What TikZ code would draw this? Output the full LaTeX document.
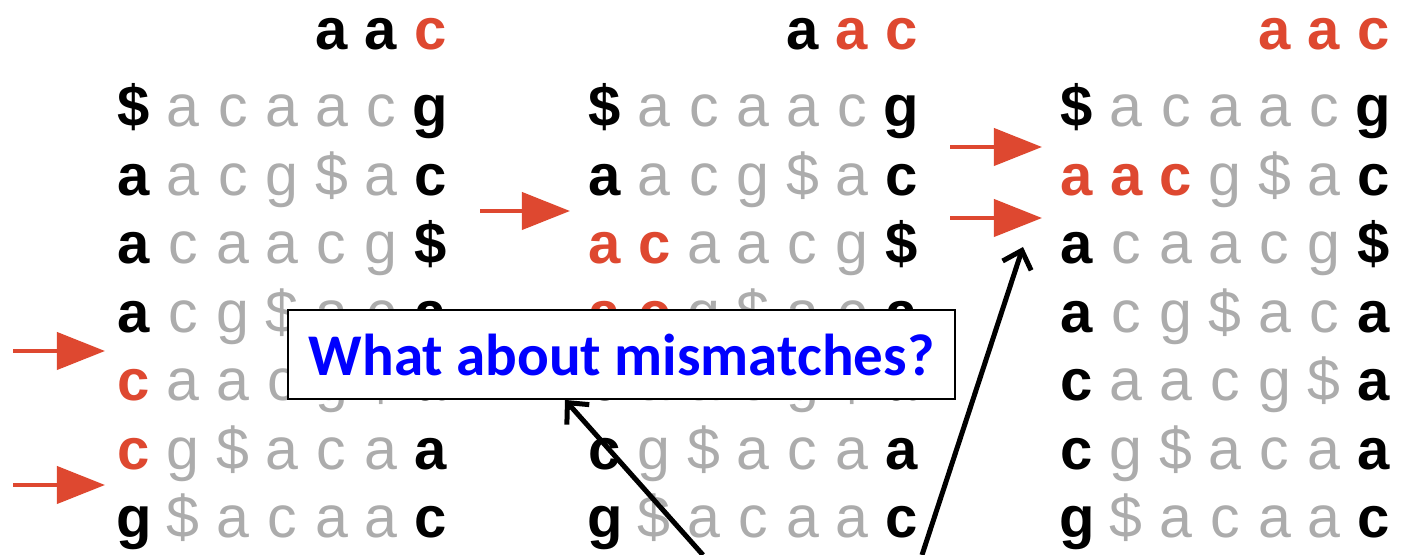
\documentclass[tikz,border=0pt]{standalone}
\usepackage{fontspec}
\setmainfont{Liberation Sans}
\newfontfamily\boxfont{Carlito}
\usetikzlibrary{arrows.meta}
\definecolor{bwtred}{RGB}{222,72,48}
\definecolor{bwtgrey}{RGB}{172,172,172}
\definecolor{qblue}{RGB}{0,0,255}

% One BW matrix: #1 name, #2 x of first column, #3 header letters (cols 4-6), #4 rows
\newcommand\bwtmatrix[4]{%
  \foreach \s/\ch [count=\c from 4] in {#3}
    \node[\s] (#1-h-\c) at ({#2+49.4*\c},50) {\ch};
  \foreach \r/\row in {#4} {
    \foreach \s/\ch [count=\c from 0] in \row
      \node[\s] (#1-\r-\c) at ({#2+49.4*\c},{127+68.5*(\r-1)}) {\ch};
  }%
}

\begin{document}
\begin{tikzpicture}[x=0.01cm,y=-0.01cm,
  ltr/.style={anchor=base, inner sep=0pt},
  ck/.style={ltr, font=\fontsize{16.5}{16.5}\selectfont\bfseries, text=black},
  cr/.style={ltr, font=\fontsize{16.5}{16.5}\selectfont\bfseries, text=bwtred},
  cg/.style={ltr, font=\fontsize{16.8}{16.8}\selectfont, text=bwtgrey},
  hit/.style={draw=bwtred, line width=0.04cm, -{Triangle[length=0.48cm,width=0.37cm]}},
  callout/.style={draw=black, line width=0.05cm, -{Straight Barb[length=0.16cm,width=0.3cm]}},
  question/.style={draw=black, line width=0.018cm, fill=white, inner sep=0pt,
    minimum width=6.67cm, minimum height=0.89cm, text=qblue,
    font=\boxfont\bfseries\fontsize{16.8}{16.8}\selectfont}]
\useasboundingbox[fill=white] (0,0) rectangle (1405,555);

% first step: rows starting with c
\bwtmatrix{m1}{134}{ck/a,ck/a,cr/c}{
  1/{ck/\$,cg/a,cg/c,cg/a,cg/a,cg/c,ck/g},
  2/{ck/a,cg/a,cg/c,cg/g,cg/\$,cg/a,ck/c},
  3/{ck/a,cg/c,cg/a,cg/a,cg/c,cg/g,ck/\$},
  4/{ck/a,cg/c,cg/g,cg/\$,cg/a,cg/c,ck/a},
  5/{cr/c,cg/a,cg/a,cg/c,cg/g,cg/\$,ck/a},
  6/{cr/c,cg/g,cg/\$,cg/a,cg/c,cg/a,ck/a},
  7/{ck/g,cg/\$,cg/a,cg/c,cg/a,cg/a,ck/c}}

% second step: rows starting with ac
\bwtmatrix{m2}{605}{ck/a,cr/a,cr/c}{
  1/{ck/\$,cg/a,cg/c,cg/a,cg/a,cg/c,ck/g},
  2/{ck/a,cg/a,cg/c,cg/g,cg/\$,cg/a,ck/c},
  3/{cr/a,cr/c,cg/a,cg/a,cg/c,cg/g,ck/\$},
  4/{cr/a,cr/c,cg/g,cg/\$,cg/a,cg/c,ck/a},
  5/{ck/c,cg/a,cg/a,cg/c,cg/g,cg/\$,ck/a},
  6/{ck/c,cg/g,cg/\$,cg/a,cg/c,cg/a,ck/a},
  7/{ck/g,cg/\$,cg/a,cg/c,cg/a,cg/a,ck/c}}

% third step: rows starting with aac
\bwtmatrix{m3}{1077}{cr/a,cr/a,cr/c}{
  1/{ck/\$,cg/a,cg/c,cg/a,cg/a,cg/c,ck/g},
  2/{cr/a,cr/a,cr/c,cg/g,cg/\$,cg/a,ck/c},
  3/{ck/a,cg/c,cg/a,cg/a,cg/c,cg/g,ck/\$},
  4/{ck/a,cg/c,cg/g,cg/\$,cg/a,cg/c,ck/a},
  5/{ck/c,cg/a,cg/a,cg/c,cg/g,cg/\$,ck/a},
  6/{ck/c,cg/g,cg/\$,cg/a,cg/c,cg/a,ck/a},
  7/{ck/g,cg/\$,cg/a,cg/c,cg/a,cg/a,ck/c}}

% range markers
\coordinate (a1s) at (13,351);   \coordinate (a1e) at (105,351);
\coordinate (a2s) at (13,485);   \coordinate (a2e) at (105,485);
\coordinate (a3s) at (480,211);  \coordinate (a3e) at (570,211);
\coordinate (a4s) at (950,147);  \coordinate (a4e) at (1042,147);
\coordinate (a5s) at (950,218);  \coordinate (a5e) at (1042,218);
\foreach \i in {1,...,5} \draw[hit] (a\i s) -- (a\i e);

% question box
\node[question] (q) at (621.5,354.5) {\raisebox{-0.06cm}{What about mismatches?}};

% pointers from below
\coordinate (p1) at (703,555);
\coordinate (t1) at (565,0);
\coordinate (p2) at (922,555);
\coordinate (t2) at (1023,247);
\draw[callout] (p1) -- (q.south -| t1);
\draw[callout] (p2) -- (t2);
\end{tikzpicture}
\end{document}
